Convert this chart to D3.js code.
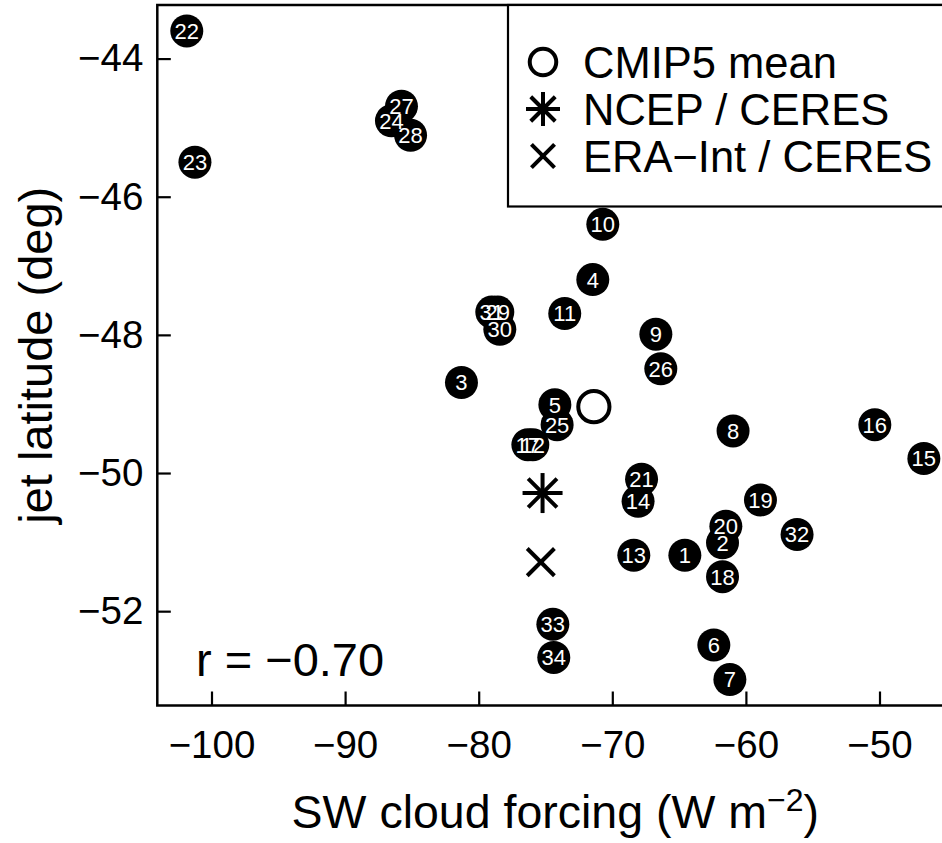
<!DOCTYPE html>
<html>
<head>
<meta charset="utf-8">
<script src="https://cdn.jsdelivr.net/npm/d3@7"></script>
<style>
  body { margin: 0; background: #fff; }
  text { font-family: "Liberation Sans", Arial, Helvetica, sans-serif; }
</style>
</head>
<body>
<svg id="chart" width="942" height="843"></svg>
<script>
'use strict';

// model numbers and their values (SW cloud forcing, jet latitude)
const modelIds = [1, 2, 3, 4, 5, 6, 7, 8, 9, 10, 11, 12, 13, 14, 15, 16, 17,
                  18, 19, 20, 21, 22, 23, 24, 25, 26, 27, 28, 29, 30, 31, 32, 33, 34];
const swcf = [-64.57, -61.75, -81.29, -71.46, -74.30, -62.40, -61.20, -60.96, -66.74, -70.71,
              -73.56, -75.95, -68.39, -68.07, -46.68, -50.35, -76.32, -61.75, -58.91, -61.50,
              -67.81, -101.85, -101.24, -86.53, -74.13, -66.37, -85.78, -85.10, -78.57, -78.42,
              -79.02, -56.17, -74.45, -74.38];
const jetLat = [-51.19, -51.01, -48.69, -47.20, -49.01, -52.49, -52.99, -49.39, -47.99, -46.40,
                -47.69, -49.59, -51.19, -50.41, -49.79, -49.30, -49.59, -51.50, -50.39, -50.77,
                -50.09, -43.60, -45.50, -44.90, -49.30, -48.49, -44.69, -45.11, -47.67, -47.92,
                -47.67, -50.89, -52.19, -52.67];

// reference points: multi-model mean and observations
const refNames = ["CMIP5 mean", "NCEP / CERES", "ERA\u2212Int / CERES"];
const refSymbols = ["circle", "asterisk", "cross"];
const refX = [-71.38, -75.22, -75.35];
const refY = [-49.04, -50.29, -51.29];

const xTicks = [-100, -90, -80, -70, -60, -50];
const yTicks = [-44, -46, -48, -50, -52];
const corrLabel = "r = \u22120.70";

const svg = d3.select("#chart");

// R style limits: data range stretched by 4% on each side
function rRange(vals) {
  const ext = d3.extent(vals);
  const pad = (ext[1] - ext[0]) * 0.04;
  return [ext[0] - pad, ext[1] + pad];
}

const plotLeft = 157.3, plotTop = 5, plotBottom = 705.5;
const xDom = rRange(swcf);
const pxPerUnit = 13.36;
const plotRight = plotLeft + (xDom[1] - xDom[0]) * pxPerUnit;

const x = d3.scaleLinear().domain(xDom).range([plotLeft, plotRight]);
const y = d3.scaleLinear().domain(rRange(jetLat)).range([plotBottom, plotTop]);

// axes, ticks pointing inwards
const xAxis = svg.append("g")
  .attr("transform", `translate(0,${plotBottom})`)
  .call(d3.axisBottom(x).tickValues(xTicks).tickSize(-14).tickPadding(25));
const yAxis = svg.append("g")
  .attr("transform", `translate(${plotLeft},0)`)
  .call(d3.axisLeft(y).tickValues(yTicks).tickSize(-13.5).tickPadding(14));

[xAxis, yAxis].forEach((g) => {
  g.select(".domain").remove();
  g.selectAll(".tick line").attr("stroke", "#000").attr("stroke-width", 2.2);
  g.selectAll(".tick text")
    .attr("fill", "#000")
    .style("font-family", '"Liberation Sans", Arial, sans-serif')
    .style("font-size", "38.5px");
});

// plot box (right side runs off the picture)
svg.append("rect")
  .attr("x", plotLeft).attr("y", plotTop)
  .attr("width", plotRight - plotLeft).attr("height", plotBottom - plotTop)
  .attr("fill", "none").attr("stroke", "#000").attr("stroke-width", 2.5);

// legend box
svg.append("rect")
  .attr("x", 508).attr("y", plotTop)
  .attr("width", 500).attr("height", 201.5)
  .attr("fill", "#fff").attr("stroke", "#000").attr("stroke-width", 2.2);

function drawSymbol(g, kind, cx, cy, s) {
  if (kind === "circle") {
    g.append("circle").attr("cx", cx).attr("cy", cy).attr("r", s * 0.78)
      .attr("fill", "none").attr("stroke", "#000").attr("stroke-width", 4);
  } else if (kind === "asterisk") {
    const d = s * 0.72;
    const segs = [[-s, 0, s, 0], [0, -s, 0, s], [-d, -d, d, d], [-d, d, d, -d]];
    segs.forEach((l) => {
      g.append("line")
        .attr("x1", cx + l[0]).attr("y1", cy + l[1])
        .attr("x2", cx + l[2]).attr("y2", cy + l[3])
        .attr("stroke", "#000").attr("stroke-width", 4);
    });
  } else {
    const d = s * 0.68;
    [[-d, -d, d, d], [-d, d, d, -d]].forEach((l) => {
      g.append("line")
        .attr("x1", cx + l[0]).attr("y1", cy + l[1])
        .attr("x2", cx + l[2]).attr("y2", cy + l[3])
        .attr("stroke", "#000").attr("stroke-width", 4);
    });
  }
}

const legend = svg.append("g");
const legendRows = [62, 109, 156];
refNames.forEach((name, i) => {
  drawSymbol(legend, refSymbols[i], 543, legendRows[i], 17);
  legend.append("text")
    .attr("x", 583).attr("y", legendRows[i])
    .attr("dy", "0.36em")
    .style("font-size", "43.5px")
    .text(name);
});

// model circles first, numbers on top of all of them
const pts = modelIds.map((id, i) => ({id: id, sx: swcf[i], lat: jetLat[i]}));

svg.append("g").selectAll("circle")
  .data(pts)
  .join("circle")
  .attr("cx", (d) => x(d.sx))
  .attr("cy", (d) => y(d.lat))
  .attr("r", 16.5)
  .attr("fill", "#000");

svg.append("g").selectAll("text")
  .data(pts)
  .join("text")
  .attr("x", (d) => x(d.sx))
  .attr("y", (d) => y(d.lat))
  .attr("dy", "0.36em")
  .attr("text-anchor", "middle")
  .attr("fill", "#fff")
  .style("font-size", "22px")
  .text((d) => d.id);

// reference points
const refs = svg.append("g");
refNames.forEach((name, i) => {
  drawSymbol(refs, refSymbols[i], x(refX[i]), y(refY[i]), 20);
});

svg.append("text")
  .attr("x", 196).attr("y", 676)
  .style("font-size", "47px")
  .text(corrLabel);

// axis titles
const xTitle = svg.append("text")
  .attr("x", (plotLeft + plotRight) / 2).attr("y", 828)
  .attr("text-anchor", "middle")
  .style("font-size", "46.5px");
xTitle.append("tspan").text("SW cloud forcing (W m");
xTitle.append("tspan").attr("dy", -17).style("font-size", "32px").text("\u22122");
xTitle.append("tspan").attr("dy", 17).text(")");

svg.append("text")
  .attr("transform", `translate(52,${(plotTop + plotBottom) / 2}) rotate(-90)`)
  .attr("text-anchor", "middle")
  .style("font-size", "47px")
  .text("jet latitude (deg)");
</script>
</body>
</html>
